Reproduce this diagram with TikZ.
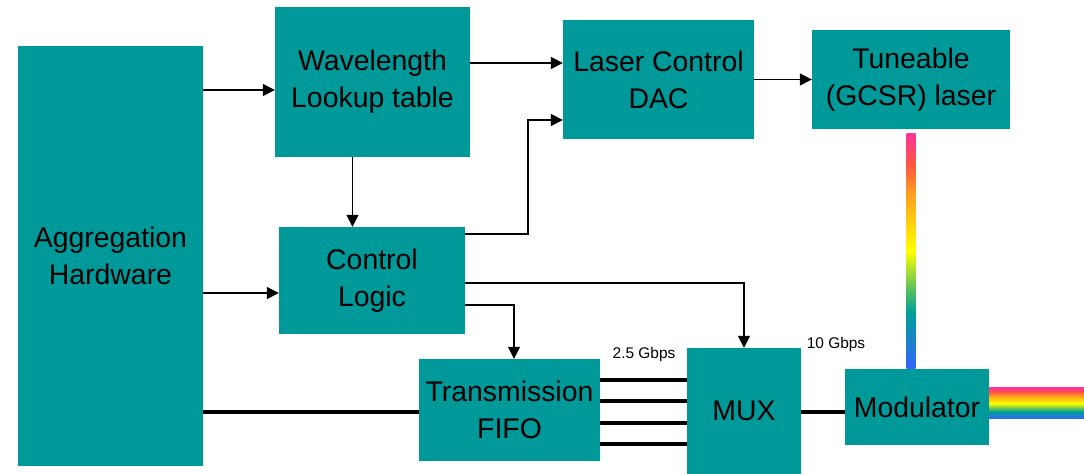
\documentclass[tikz,border=0pt]{standalone}
\usepackage{fontspec}
\setmainfont{Liberation Sans}
\usetikzlibrary{calc, arrows.meta}

\definecolor{teal}{RGB}{0,153,153}
\definecolor{rbpink}{RGB}{255,51,153}
\definecolor{rbred}{RGB}{255,90,60}
\definecolor{rborange}{RGB}{255,160,30}
\definecolor{rbyellow}{RGB}{255,255,0}
\definecolor{rbgreen}{RGB}{110,200,80}
\definecolor{rbteal}{RGB}{0,160,150}
\definecolor{rbblue}{RGB}{50,100,255}
\pgfdeclareverticalshading{rainbow}{100bp}{color(0bp)=(rbblue); color(25bp)=(rbblue);
  color(37bp)=(rbteal); color(43bp)=(rbgreen); color(50bp)=(rbyellow);
  color(62bp)=(rborange); color(68bp)=(rbred); color(75bp)=(rbpink); color(100bp)=(rbpink)}

\tikzset{
  blk/.style={fill=teal, inner sep=0pt, align=center,
    font=\fontsize{28.5}{37}\selectfont},
  arr/.style={line width=1.5bp, -{Triangle[length=12bp,width=12bp]}},
  bus/.style={line width=4.5bp},
  rate/.style={font=\fontsize{15.5}{18}\selectfont}
}

\begin{document}
\begin{tikzpicture}[x=1bp, y=-1bp]
  \useasboundingbox (0,0) rectangle (1084,474);
  % blocks, centres and sizes taken from the layout
  \node[blk, minimum width=185bp, minimum height=420bp] (agg) at (110.5,256) {Aggregation\\Hardware};
  \node[blk, minimum width=195bp, minimum height=150bp] (wl) at (372.5,82) {Wavelength\\Lookup table};
  \node[blk, minimum width=191bp, minimum height=119bp] (dac) at (658.5,79.5) {Laser Control\\DAC};
  \node[blk, minimum width=198bp, minimum height=99bp] (tl) at (911,79.5) {Tuneable\\(GCSR) laser};
  \node[blk, minimum width=186bp, minimum height=107bp] (cl) at (372,280.5) {Control\\Logic};
  \node[blk, minimum width=181bp, minimum height=102bp] (fifo) at (509.5,410) {Transmission\\FIFO};
  \node[blk, minimum width=114bp, minimum height=126bp] (mux) at (744,411) {MUX};
  \node[blk, minimum width=144bp, minimum height=76bp] (mod) at (917,407) {Modulator};
  \node[rate] (lbla) at (644,355) {2.5 Gbps};
  \node[rate] (lblb) at (836,345) {10 Gbps};
  \coordinate (out) at (1084,403);

  % control arrows
  \draw[arr] (agg.east |- 0,90) -- (wl.west |- 0,90);
  \draw[arr] (wl.east |- 0,63) -- (dac.west |- 0,63);
  \draw[arr] (dac.east) -- (tl.west);
  \draw[arr] (wl.south -| 352.5,0) -- (cl.north -| 352.5,0);
  \draw[arr] (agg.east |- 0,293) -- (cl.west |- 0,293);
  \draw[arr] (cl.east |- 0,234) -| (528,120) -- (dac.west |- 0,120);
  \draw[arr] (cl.east |- 0,283) -| (mux.north);
  \draw[arr] (cl.east |- 0,305) -| (fifo.north -| 514,0);

  % data path
  \draw[bus] (agg.east |- 0,412) -- (fifo.west |- 0,412);
  \foreach \y in {380,401,423,444}
    \draw[bus] (fifo.east |- 0,\y) -- (mux.west |- 0,\y);
  \draw[bus] (mux.east |- 0,412) -- (mod.west |- 0,412);

  % optical path
  \shade[shading=rainbow] ([xshift=-4.5bp,yshift=-4bp]tl.south) rectangle ([xshift=4.5bp]tl.south |- mod.north);
  \shade[shading=rainbow] ([yshift=19bp]mod.east) rectangle ([yshift=-12bp]out |- mod.east);
\end{tikzpicture}
\end{document}
